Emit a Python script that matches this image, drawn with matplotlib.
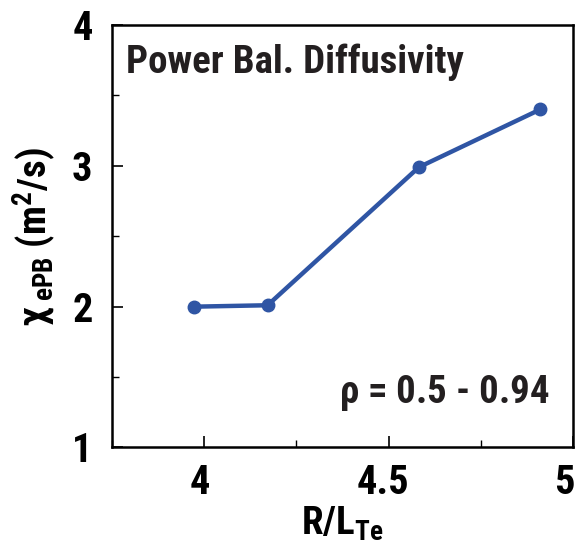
import matplotlib
matplotlib.use("Agg")
import matplotlib.pyplot as plt
import matplotlib.transforms as mtrans
from matplotlib.ticker import MultipleLocator

fam = 'Roboto Condensed'
plt.rcParams['font.family'] = [fam, 'DejaVu Sans']
plt.rcParams['font.weight'] = 'bold'
plt.rcParams['mathtext.fontset'] = 'custom'
plt.rcParams['mathtext.rm'] = fam + ':bold'
plt.rcParams['mathtext.it'] = fam + ':bold'
plt.rcParams['mathtext.bf'] = fam + ':bold'

r_lte = [3.973, 4.172, 4.582, 4.911]
chi_epb = [2.0, 2.01, 2.99, 3.40]
x_ticks = [4, 4.5, 5]
x_tick_labels = ['4', '4.5', '5']
y_ticks = [1, 2, 3, 4]
y_tick_labels = ['1', '2', '3', '4']

fig = plt.figure(figsize=(5.79, 5.48), dpi=100)
ax = fig.add_axes([0.1934, 0.1834, 0.7962, 0.771])
ax.plot(r_lte, chi_epb, color='#2f55a4', lw=3.2, marker='o', ms=9, zorder=3)
ax.set_xlim(3.75, 5.0)
ax.set_ylim(1, 4)
ax.set_xticks(x_ticks)
ax.set_xticklabels(x_tick_labels)
ax.set_yticks(y_ticks)
ax.set_yticklabels(y_tick_labels)
ax.xaxis.set_minor_locator(MultipleLocator(0.25))
ax.yaxis.set_minor_locator(MultipleLocator(0.5))
ax.tick_params(which='major', direction='in', length=8, width=1.2, labelsize=29)
ax.tick_params(axis='x', which='major', pad=12)
ax.tick_params(axis='y', which='major', pad=14)
ax.tick_params(which='minor', direction='in', length=5, width=1.0)
shifts_px = [-4, -6, -9]
for lbl, dx in zip(ax.get_xticklabels(), shifts_px):
    lbl.set_transform(lbl.get_transform() + mtrans.ScaledTranslation(dx / 100, 0, fig.dpi_scale_trans))
for s in ax.spines.values():
    s.set_linewidth(1.8)

ax.set_xlabel(r'R/L$_{\mathrm{Te}}$', fontsize=28, fontweight='bold', labelpad=2)
ax.set_ylabel(r'$\chi_{\ \mathrm{ePB}}$ (m$^2$/s)', fontsize=28, fontweight='bold', labelpad=10)
ax.text(0.03, 0.955, 'Power Bal. Diffusivity', transform=ax.transAxes, fontsize=28,
        fontweight='bold', color='#231f20', va='top', ha='left')
ax.text(0.948, 0.13, r'$\rho$ = 0.5 - 0.94', transform=ax.transAxes, fontsize=28,
        fontweight='bold', color='#231f20', va='center', ha='right')

fig.savefig('out.png', dpi=100)
